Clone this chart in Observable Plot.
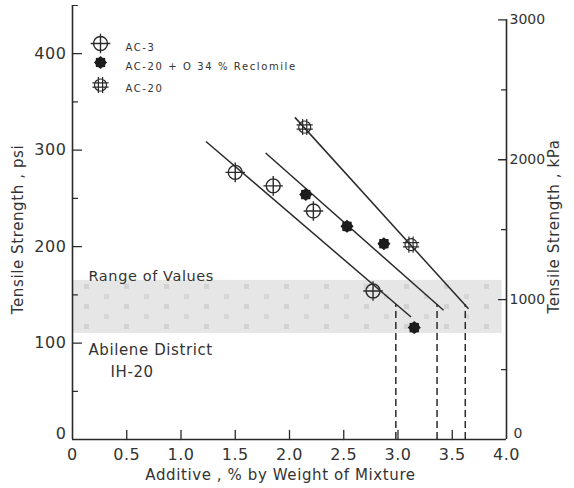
<!DOCTYPE html>
<html>
<head>
<meta charset="utf-8">
<script src="https://cdn.jsdelivr.net/npm/d3@7"></script>
<script src="https://cdn.jsdelivr.net/npm/@observablehq/plot@0.6"></script>
<style>
  html, body { margin: 0; padding: 0; background: #fff; }
  #chart svg text { letter-spacing: 0.6px; }
</style>
</head>
<body>
<div id="chart"></div>
<script>
// Indirect tensile strength vs. additive content, three binder series
const seriesNames = ["AC-3", "AC-20 + O 34 % Reclomile", "AC-20"];

const ac3Additive = [1.50, 1.85, 2.22, 2.77];
const ac3Strength = [277, 263, 237, 154];

const reclAdditive = [2.15, 2.53, 2.87, 3.15];
const reclStrength = [254, 221, 203, 116];

const ac20Additive = [2.14, 3.12];
const ac20Strength = [324, 202];

// Hand-fitted trend lines (start / end of each segment)
const fitStartX = [1.23, 1.78, 2.05];
const fitStartY = [309, 297, 334];
const fitEndX = [3.12, 3.42, 3.65];
const fitEndY = [127, 134, 135.5];

// Additive content where each line reaches the 140 psi criterion
const criterionPsi = 140;
const criterionAdditive = [2.98, 3.36, 3.62];

// Range of values, Abilene District IH-20 (psi)
const rangeLow = 110;
const rangeHigh = 165;
const rangeXEnd = 3.96;

// Axis ticks
const xTicks = [0, 0.5, 1.0, 1.5, 2.0, 2.5, 3.0, 3.5, 4.0];
const psiTicks = [0, 100, 200, 300, 400];
const psiMinor = [50, 150, 250, 350, 450];
const kpaTicks = [0, 1000, 2000, 3000];
const kpaMinor = [500, 1500, 2500];
const KPA_PER_PSI = 6.894757;

const xDomain = [0, 4];
const yDomain = [0, 450];

const ink = "#2a2a2a";
const font = "DejaVu Sans, sans-serif";

// Marker shapes
const crossCircle = {
  draw(ctx, size) {
    const r = Math.sqrt(size / Math.PI), e = r * 1.4;
    ctx.moveTo(r, 0); ctx.arc(0, 0, r, 0, 2 * Math.PI);
    ctx.moveTo(-e, 0); ctx.lineTo(e, 0);
    ctx.moveTo(0, -e); ctx.lineTo(0, e);
  }
};
const hashCircle = {
  draw(ctx, size) {
    const r = Math.sqrt(size / Math.PI), e = r * 1.35, o = r * 0.35;
    ctx.moveTo(r, 0); ctx.arc(0, 0, r, 0, 2 * Math.PI);
    ctx.moveTo(-e, -o); ctx.lineTo(e, -o);
    ctx.moveTo(-e, o); ctx.lineTo(e, o);
    ctx.moveTo(-o, -e); ctx.lineTo(-o, e);
    ctx.moveTo(o, -e); ctx.lineTo(o, e);
  }
};
const blob = {
  draw(ctx, size) {
    const r = Math.sqrt(size / Math.PI), n = 16;
    for (let i = 0; i < n; i++) {
      const a = (i / n) * 2 * Math.PI, rr = i % 2 ? r * 0.8 : r;
      const px = rr * Math.cos(a), py = rr * Math.sin(a);
      if (i === 0) ctx.moveTo(px, py); else ctx.lineTo(px, py);
    }
    ctx.closePath();
  }
};
// short straight tick, drawn from the anchor point in the vector's direction
const tickShape = { draw(ctx, l) { ctx.moveTo(0, 0); ctx.lineTo(0, -l); } };

const symbolStyles = [
  {symbol: crossCircle, fill: "none", stroke: ink, strokeWidth: 1.4, r: 7},
  {symbol: blob, fill: "#1c1c1c", stroke: "none", strokeWidth: 0, r: 6.5},
  {symbol: hashCircle, fill: "none", stroke: ink, strokeWidth: 1.2, r: 6}
];

const series = [
  ac3Additive.map((x, i) => ({x, y: ac3Strength[i]})),
  reclAdditive.map((x, i) => ({x, y: reclStrength[i]})),
  ac20Additive.map((x, i) => ({x, y: ac20Strength[i]}))
];
const fits = fitStartX.map((x1, i) => ({x1, y1: fitStartY[i], x2: fitEndX[i], y2: fitEndY[i]}));
const band = [{x1: xDomain[0], x2: rangeXEnd, y1: rangeLow, y2: rangeHigh}];

const legendDy = [38, 57, 79.5];
const labelStyle = {fontSize: 16, fill: "#333"};
const rightLabelStyle = {fontSize: 14, fill: "#333", className: "kpa"};
const titleStyle = {fontSize: 15, fill: "#333", textAnchor: "middle"};

const marks = [
  // shaded range band
  Plot.rect(band, {x1: "x1", x2: "x2", y1: "y1", y2: "y2", fill: "url(#stipple)"}),

  // frame lines
  Plot.ruleX([xDomain[0]], {y1: () => yDomain[0], y2: () => yDomain[1], stroke: ink, strokeWidth: 1.6}),
  Plot.ruleX([xDomain[1]], {y1: () => 0, y2: () => 3000 / KPA_PER_PSI, stroke: ink, strokeWidth: 1.6}),
  Plot.ruleY([0], {x1: () => xDomain[0], x2: () => xDomain[1], stroke: ink, strokeWidth: 1.6}),

  // left ticks (psi), pointing inward
  Plot.vector(psiTicks.filter(d => d > 0), {x: () => xDomain[0], y: d => d, length: 9, rotate: 90, anchor: "start", shape: tickShape, stroke: ink, strokeWidth: 1.3}),
  Plot.vector(psiMinor, {x: () => xDomain[0], y: d => d, length: 5, rotate: 90, anchor: "start", shape: tickShape, stroke: ink, strokeWidth: 1.2}),
  // right ticks (kPa), pointing inward
  Plot.vector(kpaTicks.filter(d => d > 0), {x: () => xDomain[1], y: d => d / KPA_PER_PSI, length: 8, rotate: -90, anchor: "start", shape: tickShape, stroke: ink, strokeWidth: 1.3}),
  Plot.vector(kpaMinor, {x: () => xDomain[1], y: d => d / KPA_PER_PSI, length: 5, rotate: -90, anchor: "start", shape: tickShape, stroke: ink, strokeWidth: 1.2}),
  // bottom ticks, pointing up
  Plot.vector(xTicks.filter(d => d > 0 && d < 4), {x: d => d, y: () => 0, length: 9, rotate: 0, anchor: "start", shape: tickShape, stroke: ink, strokeWidth: 1.3}),

  // tick labels
  Plot.text(psiTicks.filter(d => d > 0), {x: () => xDomain[0], y: d => d, text: d => String(d), textAnchor: "end", dx: -6, ...labelStyle}),
  Plot.text([0], {x: () => xDomain[0], y: d => d, text: d => String(d), textAnchor: "end", dx: -6, dy: -6, ...labelStyle}),
  Plot.text(kpaTicks.filter(d => d > 0), {x: () => xDomain[1], y: d => d / KPA_PER_PSI, text: d => String(d), textAnchor: "start", dx: 3, ...rightLabelStyle}),
  Plot.text([0], {x: () => xDomain[1], y: d => d, text: d => String(d), textAnchor: "start", dx: 7, dy: -6, ...rightLabelStyle}),
  Plot.text(xTicks, {x: d => d, y: () => 0, text: d => d === 0 ? "0" : d.toFixed(1), dy: 15, ...labelStyle}),

  // axis titles
  Plot.text(["Tensile Strength , psi"], {frameAnchor: "left", dx: -54, dy: 7, rotate: -90, ...titleStyle}),
  Plot.text(["Tensile Strength , kPa"], {frameAnchor: "right", dx: 48, dy: 4, rotate: -90, ...titleStyle}),
  Plot.text(["Additive , % by Weight of Mixture"], {frameAnchor: "bottom", dx: -9, dy: 40, ...titleStyle}),

  // criterion drop lines
  Plot.ruleX(criterionAdditive, {y1: () => 0, y2: () => criterionPsi, stroke: ink, strokeWidth: 1.5, strokeDasharray: "7,4"}),

  // trend lines
  Plot.link(fits, {x1: "x1", y1: "y1", x2: "x2", y2: "y2", stroke: ink, strokeWidth: 1.5}),

  // data points
  ...series.map((pts, i) => Plot.dot(pts, {x: "x", y: "y", ...symbolStyles[i]})),

  // band annotations
  Plot.text(["Range of Values"], {frameAnchor: "top-left", dx: 16, dy: 265, textAnchor: "start", fontSize: 14.5, fill: "#333"}),
  Plot.text(["Abilene District"], {frameAnchor: "top-left", dx: 16, dy: 339, textAnchor: "start", fontSize: 15, fill: "#333"}),
  Plot.text(["IH-20"], {frameAnchor: "top-left", dx: 38, dy: 361, textAnchor: "start", fontSize: 15, fill: "#333"}),

  // legend
  ...seriesNames.flatMap((name, i) => [
    Plot.dot([name], {frameAnchor: "top-left", dx: 28, dy: legendDy[i], ...symbolStyles[i]}),
    Plot.text([name], {frameAnchor: "top-left", dx: 53, dy: legendDy[i], textAnchor: "start", fontSize: 10, fill: "#333", className: "legend"})
  ])
];

const chart = Plot.plot({
  width: 574,
  height: 488,
  marginLeft: 72,
  marginRight: 68,
  marginTop: 5,
  marginBottom: 49,
  x: {domain: xDomain, axis: null},
  y: {domain: yDomain, axis: null},
  style: {fontFamily: font, background: "#fff", color: ink, overflow: "visible"},
  marks
});

// legend labels get wider letter spacing; kPa labels stay compact
for (const t of chart.querySelectorAll("g.legend text")) t.style.letterSpacing = "1.6px";
for (const t of chart.querySelectorAll("g.kpa text")) t.style.letterSpacing = "0px";

// stippled grey fill for the range band
const ns = "http://www.w3.org/2000/svg";
const defs = document.createElementNS(ns, "defs");
defs.innerHTML = `
  <pattern id="stipple" width="40" height="20" patternUnits="userSpaceOnUse">
    <rect width="40" height="20" fill="#e6e6e6"/>
    <rect x="4" y="4" width="5" height="5" fill="#d2d2d2"/>
    <rect x="24" y="14" width="5" height="5" fill="#d6d6d6"/>
  </pattern>`;
chart.insertBefore(defs, chart.firstChild);

document.getElementById("chart").appendChild(chart);
</script>
</body>
</html>
